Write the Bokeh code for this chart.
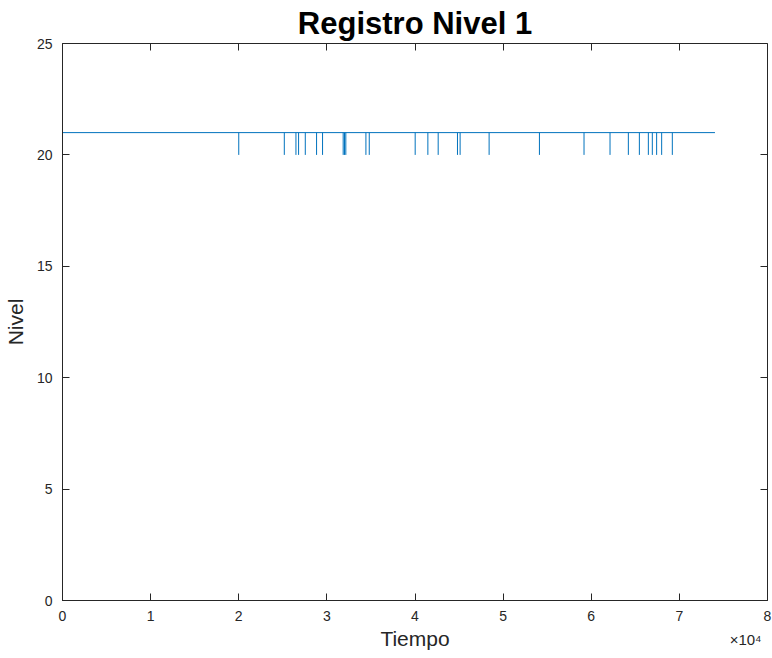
from bokeh.plotting import figure
from bokeh.models import FixedTicker, LinearAxis, Range1d
from bokeh.embed import file_html
from bokeh.resources import INLINE

# Data (time in samples, level values)
t_start = 0
t_end = 74040
base_level = 21
drop_level = 20
drop_times = [20000, 25170, 26490, 26790, 27550, 28830, 29510,
              31850, 32000, 32150, 34430, 34810,
              40020, 41460, 42630, 44820, 45120, 48410, 54120,
              59180, 62130, 64210, 65460, 66480, 66930, 67420, 67990, 69200]
x_ticks = [0, 10000, 20000, 30000, 40000, 50000, 60000, 70000, 80000]
x_tick_labels = ["0", "1", "2", "3", "4", "5", "6", "7", "8"]
y_ticks = [0, 5, 10, 15, 20, 25]
x_multiplier = "×10⁴"

FONT = "Liberation Sans"
DARK = "#262626"
BLUE = "#0072BD"

p = figure(frame_width=705, frame_height=557, output_backend="svg", toolbar_location=None,
           x_range=Range1d(0, 80000), y_range=Range1d(0, 25),
           min_border_left=0, min_border_right=5, min_border_top=36, min_border_bottom=0)
p.background_fill_color = "white"
p.border_fill_color = "white"
p.outline_line_color = DARK
p.outline_line_width = 1
p.xgrid.visible = False
p.ygrid.visible = False

p.title.text = "Registro Nivel 1"
p.title.text_font = FONT
p.title.text_font_size = "31px"
p.title.text_font_style = "bold"
p.title.text_color = "black"
p.title.align = "center"
p.title.offset = 0
p.title.standoff = 6

# base line and drops
p.line(x=[t_start, t_end], y=[base_level, base_level], line_color=BLUE, line_width=1)
p.segment(x0=drop_times, y0=[base_level] * len(drop_times),
          x1=drop_times, y1=[drop_level] * len(drop_times), line_color=BLUE, line_width=1)

def style(ax, labels=True):
    ax.axis_line_color = DARK
    ax.major_tick_line_color = DARK
    ax.major_tick_in = 7
    ax.major_tick_out = 0
    ax.minor_tick_line_color = None
    ax.major_label_text_font = FONT
    ax.major_label_text_font_size = "14px"
    ax.major_label_text_color = DARK
    ax.axis_label_text_font = FONT
    ax.axis_label_text_font_size = "21px"
    ax.axis_label_text_font_style = "normal"
    ax.axis_label_text_color = DARK
    if not labels:
        ax.major_label_text_font_size = "0px"
        ax.major_label_text_color = None
        ax.major_label_standoff = 0

xa = p.xaxis[0]
xa.ticker = FixedTicker(ticks=x_ticks)
xa.major_label_overrides = {t: l for t, l in zip(x_ticks, x_tick_labels)}
xa.axis_label = "Tiempo"
style(xa)
xa.major_label_standoff = 10
xa.axis_label_standoff = 3

ya = p.yaxis[0]
ya.ticker = FixedTicker(ticks=y_ticks)
ya.axis_label = "Nivel"
style(ya)
ya.major_label_standoff = 10
ya.axis_label_standoff = 7

# box ticks on top and right (fixed at the frame edges)
top = LinearAxis(ticker=FixedTicker(ticks=x_ticks), fixed_location=25)
style(top, labels=False)
p.add_layout(top, "above")
right = LinearAxis(ticker=FixedTicker(ticks=y_ticks), fixed_location=80000)
style(right, labels=False)
p.add_layout(right, "right")

# x10^4 multiplier: tick-label-only axis pulled up into the "Tiempo" row
mult = LinearAxis(ticker=FixedTicker(ticks=[x_ticks[-1]]),
                  major_label_overrides={x_ticks[-1]: x_multiplier})
mult.axis_line_color = None
mult.major_tick_line_color = None
mult.minor_tick_line_color = None
mult.major_tick_in = 0
mult.major_tick_out = 0
mult.major_label_standoff = -22
mult.major_label_text_align = "right"
mult.major_label_text_font = FONT
mult.major_label_text_font_size = "15px"
mult.major_label_text_color = DARK
p.add_layout(mult, "below")

open("out.html", "w").write(file_html(p, INLINE))
